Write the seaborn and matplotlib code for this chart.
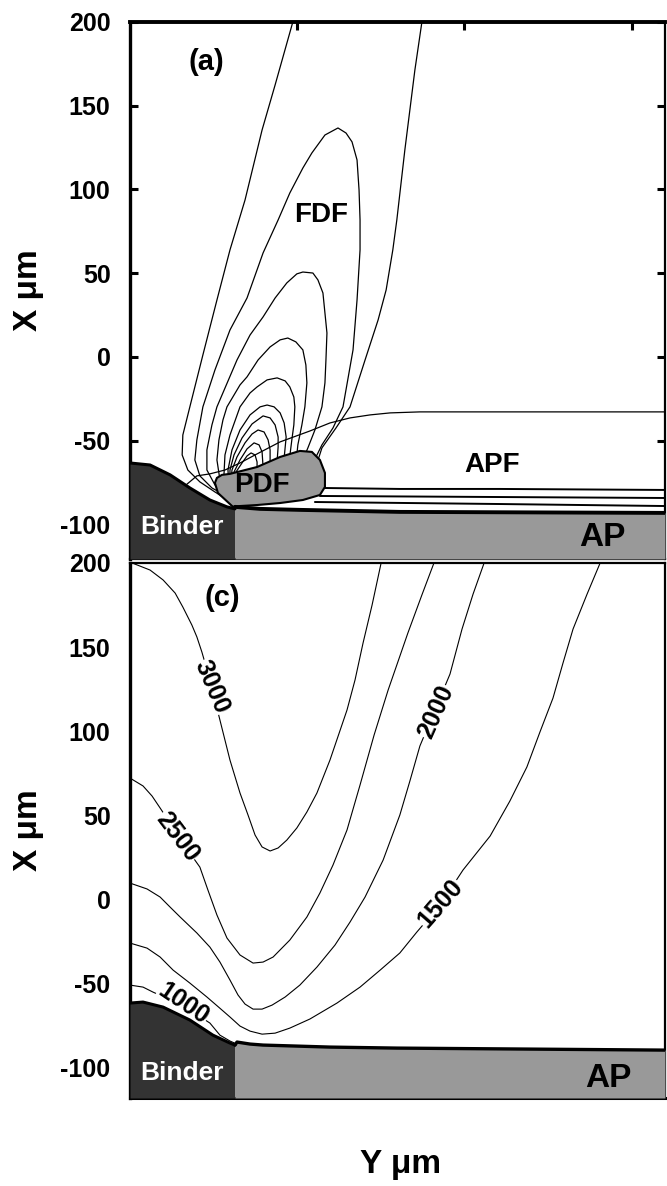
import numpy as np
import pandas as pd
import matplotlib
matplotlib.use("Agg")
import matplotlib.pyplot as plt
import seaborn as sns

# ---------------- Panel (a): flame contour lines (Y, X in micrometres) ----------------
a0_y = [48.7, 43.4, 39.5, 34.4, 29.9, 26.0, 21.8, 17.9, 15.8, 15.6, 17.3, 20.9, 25.4, 29.3,
        56.0, 57.4, 61.6, 65.8, 70.3, 74.2, 76.6, 78.6, 79.8, 82.2, 85.2, 87.3]
a0_x = [200.0, 162.4, 135.5, 93.7, 63.9, 34.0, 1.2, -29.8, -46.6, -58.5, -67.5, -74.6, -80.6, -85.4,
        -63.0, -54.3, -42.4, -29.8, -1.8, 22.1, 40.0, 63.9, 81.8, 123.6, 171.3, 200.0]
a1_y = [29.3, 24.5, 20.9, 19.4, 20.0, 21.8, 25.4, 29.9, 35.0, 39.8, 44.3, 47.8, 51.7, 54.4, 58.3,
        62.2, 64.6, 66.4, 67.9, 68.5, 68.8, 68.8, 67.9, 66.7, 63.7, 60.7, 57.4, 55.3]
a1_x = [-83.6, -78.2, -71.0, -61.5, -49.5, -29.8, -7.8, 16.1, 35.2, 62.1, 81.8, 97.9, 112.8, 121.8, 132.5,
        136.7, 133.7, 128.4, 117.6, 99.7, 81.8, 63.9, 34.0, 4.2, -29.8, -42.4, -52.5, -61.0]
a2_y = [29.3, 25.4, 23.0, 23.0, 24.5, 26.0, 32.0, 35.9, 39.8, 43.4, 46.9, 49.9, 51.7, 54.7, 56.2,
        57.7, 58.9, 58.6, 58.3, 57.4, 55.3, 53.2, 52.3]
a2_x = [-82.4, -76.4, -67.5, -55.5, -40.6, -29.8, -1.8, 13.1, 23.9, 35.2, 44.2, 49.6, 50.7, 50.1, 46.0,
        38.2, 14.3, -1.8, -15.5, -29.8, -43.6, -54.3, -58.5]
a3_y = [29.3, 26.9, 26.0, 26.6, 27.8, 29.0, 32.9, 35.0, 38.3, 41.9, 44.9, 47.2, 49.6, 51.7, 52.6,
        52.9, 52.3, 51.4, 50.2, 49.9]
a3_x = [-80.6, -73.4, -61.5, -49.5, -37.6, -29.8, -16.7, -11.9, -1.8, 6.0, 10.2, 11.3, 9.0, 4.2, -4.8,
        -15.5, -29.8, -40.6, -52.5, -58.5]
a4_y = [29.3, 28.1, 28.4, 29.9, 32.9, 35.9, 38.0, 41.0, 44.0, 46.4, 47.8, 49.0, 49.3, 49.0, 48.4, 47.8]
a4_x = [-79.4, -70.4, -58.5, -46.6, -29.8, -21.5, -17.9, -13.7, -12.5, -14.3, -17.9, -23.9, -29.8,
        -40.6, -49.5, -59.1]
a5_y = [29.6, 29.3, 30.5, 32.9, 35.9, 38.9, 41.0, 43.1, 44.9, 46.1, 46.7, 46.1]
a5_x = [-78.2, -67.5, -55.5, -43.6, -34.6, -29.8, -28.7, -29.8, -33.4, -39.4, -47.8, -60.3]
a6_y = [29.9, 29.9, 31.1, 33.5, 36.5, 39.8, 41.9, 43.4, 44.3, 44.3, 44.0]
a6_x = [-77.0, -67.5, -58.5, -48.4, -40.0, -35.2, -36.4, -40.6, -47.8, -53.7, -62.1]
a7_y = [30.2, 30.5, 32.0, 34.4, 36.5, 38.3, 40.1, 41.3, 41.9, 41.9]
a7_x = [-75.8, -67.5, -59.7, -51.3, -46.0, -43.6, -44.8, -49.5, -55.5, -63.9]
a8_y = [30.5, 31.1, 32.9, 35.0, 37.1, 38.6, 39.5, 39.8]
a8_x = [-74.6, -68.7, -61.5, -54.9, -51.3, -52.5, -56.7, -65.7]
a9_y = [30.8, 31.7, 33.5, 35.0, 36.2, 37.4, 38.0, 38.0]
a9_x = [-73.4, -68.7, -63.3, -59.1, -57.3, -58.5, -62.7, -67.5]

# AP flame contours
apf_top_y = [160.0, 110.6, 86.7, 77.8, 71.8, 65.8, 59.8, 53.8, 44.9, 37.4, 32.9, 28.4, 23.9, 20.0, 17.0]
apf_top_x = [-32.8, -32.8, -32.8, -33.4, -34.6, -36.4, -39.4, -44.2, -50.7, -58.5, -63.3, -67.5,
             -69.8, -71.0, -76.0]
apf1_y = [56.8, 80.7, 110.6, 160.0]
apf1_x = [-78.2, -78.8, -78.8, -79.4]
apf2_y = [56.8, 160.0]
apf2_x = [-83.0, -84.2]
apf3_y = [55.3, 110.6, 160.0]
apf3_x = [-86.6, -87.8, -89.0]

# surfaces, panel (a)
a_binder_y = [0.0, 6.0, 12.0, 17.9, 23.9, 29.0, 31.4]
a_binder_top = [-63.3, -64.5, -70.4, -78.2, -85.4, -89.5, -90.7]
a_ap_y = [31.4, 38.9, 50.8, 80.7, 160.0]
a_ap_top = [-89.5, -90.7, -91.3, -92.5, -93.1]
pdf_y = [30.8, 26.3, 25.4, 26.0, 27.5, 29.9, 38.0, 44.9, 50.8, 54.4, 56.8, 58.3, 58.3, 56.8,
         51.7, 44.9, 38.0, 32.9]
pdf_x = [-89.5, -81.2, -75.2, -72.2, -70.4, -69.8, -65.7, -59.7, -56.1, -56.7, -61.5, -69.2, -77.6,
         -82.4, -85.4, -87.2, -88.4, -89.0]

# ---------------- Panel (c): temperature contours (K) ----------------
c3000_y = [0.0, 6.0, 9.9, 13.5, 15.8, 18.5, 20.0, 21.5, 23.9, 26.9, 29.9, 32.9, 35.3, 37.4, 39.5,
           41.9, 44.3, 46.9, 49.9, 52.9, 55.9, 59.8, 64.9, 67.3, 69.7, 72.4, 75.1]
c3000_x = [200.5, 195.8, 189.9, 182.1, 173.8, 163.1, 156.0, 147.0, 130.4, 106.5, 82.7, 63.1, 50.0,
           38.1, 31.0, 28.6, 30.4, 35.1, 42.3, 51.8, 63.1, 82.7, 112.5, 130.4, 152.4, 175.0, 200.0]
c2500_y = [0.0, 3.9, 6.6, 9.0, 12.0, 15.0, 17.9, 20.9, 23.3, 26.0, 29.0, 32.9, 36.8, 39.8, 42.8,
           47.8, 52.9, 56.8, 60.7, 64.9, 68.8, 73.0, 77.2, 83.1, 87.3, 90.9]
c2500_x = [72.0, 67.3, 61.3, 54.2, 45.2, 36.3, 27.4, 19.0, 5.4, -9.5, -23.2, -33.3, -38.1, -37.5,
           -34.5, -24.4, -10.7, 3.6, 20.2, 41.1, 67.9, 97.6, 124.4, 158.3, 181.0, 200.0]
c2000_y = [0.0, 5.1, 9.0, 12.0, 15.0, 20.0, 23.9, 26.9, 29.9, 32.3, 34.4, 36.8, 39.5, 42.5, 46.4,
           50.8, 55.9, 61.3, 65.8, 70.3, 75.7, 80.7, 83.7, 86.7, 91.2, 95.7, 99.3, 102.6, 105.9]
c2000_x = [9.5, 6.0, 1.2, -4.8, -10.7, -20.2, -28.6, -37.5, -48.2, -57.1, -62.5, -65.5, -65.5, -63.1,
           -58.3, -51.2, -40.5, -27.4, -13.7, 1.2, 23.2, 50.0, 70.2, 91.1, 112.5, 133.9, 160.7,
           181.5, 200.0]
c1500_y = [0.0, 5.1, 9.0, 12.9, 17.9, 23.0, 26.9, 29.9, 32.9, 35.9, 39.5, 43.4, 47.8, 53.8, 61.9,
           68.8, 74.8, 80.7, 85.8, 92.7, 99.6, 107.7, 113.6, 118.7, 122.6, 126.5, 129.5, 132.5,
           136.7, 140.6]
c1500_x = [-26.2, -29.2, -34.5, -42.3, -50.0, -58.3, -65.0, -70.2, -75.6, -78.6, -80.4, -79.8, -76.8,
           -71.4, -61.9, -52.4, -42.3, -32.1, -19.6, -3.6, 17.3, 37.5, 58.3, 78.6, 99.4, 119.6,
           140.5, 160.7, 181.5, 200.0]
c1000_y = [0.0, 3.9, 6.9, 15.6, 23.9, 26.9, 29.9, 31.4]
c1000_x = [-51.2, -52.4, -55.4, -63.1, -73.8, -81.0, -84.5, -85.8]

contour_levels = ["3000", "2500", "2000", "1500", "1000"]
label_y = [24.5, 14.1, 91.4, 92.7, 15.9]
label_x = [126.2, 36.9, 111.5, -2.4, -62.3]
label_rot = [-67, -53, 66, 49, -34]

# surfaces, panel (c)
c_binder_y = [0.0, 3.9, 9.9, 17.9, 24.8, 29.9, 31.4]
c_binder_top = [-61.9, -61.3, -64.3, -72.0, -81.0, -85.7, -86.9]
c_ap_y = [31.4, 32.0, 35.9, 39.8, 59.8, 79.8, 160.0]
c_ap_top = [-86.9, -85.1, -86.3, -86.9, -88.1, -88.7, -89.9]

y_ticks = [200, 150, 100, 50, 0, -50, -100]
top_ticks = [50, 100, 150]

# ---------------- styling ----------------
sns.set_theme(style="white")
plt.rcParams['font.family'] = ['Liberation Sans', 'DejaVu Sans']
plt.rcParams['font.weight'] = 'bold'
plt.rcParams['axes.labelweight'] = 'bold'
plt.rcParams['text.color'] = 'black'
plt.rcParams['axes.labelcolor'] = 'black'
plt.rcParams['xtick.color'] = 'black'
plt.rcParams['ytick.color'] = 'black'
plt.rcParams['axes.edgecolor'] = 'black'

BINDER = '#333333'
GREY = '#999999'


def long_df(curves):
    rows = []
    for name, (ys, xs) in curves.items():
        for i, (yy, xx) in enumerate(zip(ys, xs)):
            rows.append((name, i, yy, xx))
    return pd.DataFrame(rows, columns=['curve', 'order', 'Y', 'X'])


fig = plt.figure(figsize=(6.67, 11.86), dpi=100)
ax_a = fig.add_axes([0.1949, 0.5287, 0.8021, 0.4528])
ax_c = fig.add_axes([0.1949, 0.0742, 0.8021, 0.4511])

# ---- panel (a) ----
thin_a = long_df({'L0': (a0_y, a0_x), 'L1': (a1_y, a1_x), 'L2': (a2_y, a2_x), 'L3': (a3_y, a3_x),
                  'L4': (a4_y, a4_x), 'L5': (a5_y, a5_x), 'L6': (a6_y, a6_x), 'L7': (a7_y, a7_x),
                  'L8': (a8_y, a8_x), 'L9': (a9_y, a9_x), 'APFtop': (apf_top_y, apf_top_x)})
sns.lineplot(data=thin_a, x='Y', y='X', units='curve', estimator=None, sort=False,
             color='black', linewidth=0.9, ax=ax_a, legend=False)
thick_a = long_df({'A1': (apf1_y, apf1_x), 'A2': (apf2_y, apf2_x), 'A3': (apf3_y, apf3_x)})
sns.lineplot(data=thick_a, x='Y', y='X', units='curve', estimator=None, sort=False,
             color='black', linewidth=1.4, ax=ax_a, legend=False)

ya0, ya1 = -120.6, 200
ax_a.fill_between(a_binder_y, ya0, a_binder_top, color=BINDER, lw=0, zorder=3)
ax_a.fill_between(a_ap_y, ya0, a_ap_top, color=GREY, lw=0, zorder=3)
ax_a.fill(pdf_y, pdf_x, facecolor=GREY, edgecolor='black', lw=1.5, zorder=3)
ax_a.plot(a_binder_y, a_binder_top, color='black', lw=2.2, zorder=4)
ax_a.plot(a_ap_y, a_ap_top, color='black', lw=2.8, zorder=4)

ax_a.text(22.7, 176.1, "(a)", fontsize=21, ha='center', va='center', zorder=6)
ax_a.text(57.1, 84.8, "FDF", fontsize=20, ha='center', va='center', zorder=6)
ax_a.text(39.5, -76.4, "PDF", fontsize=20, ha='center', va='center', zorder=6)
ax_a.text(108.3, -64.5, "APF", fontsize=20, ha='center', va='center', zorder=6)
ax_a.text(141.4, -107.5, "AP", fontsize=24, ha='center', va='center', zorder=6)
ax_a.text(15.6, -101.5, "Binder", fontsize=19, color='white', ha='center', va='center', zorder=6)

ax_a.set_xlim(0, 160)
ax_a.set_ylim(ya0, ya1)

# ---- panel (c) ----
thin_c = long_df({'3000': (c3000_y, c3000_x), '2500': (c2500_y, c2500_x), '2000': (c2000_y, c2000_x),
                  '1500': (c1500_y, c1500_x), '1000': (c1000_y, c1000_x)})
sns.lineplot(data=thin_c, x='Y', y='X', units='curve', estimator=None, sort=False,
             color='black', linewidth=0.8, ax=ax_c, legend=False)
yc0, yc1 = -118.4, 200
ax_c.fill_between(c_binder_y, yc0, c_binder_top, color=BINDER, lw=0, zorder=3)
ax_c.fill_between(c_ap_y, yc0, c_ap_top, color=GREY, lw=0, zorder=3)
ax_c.plot(c_binder_y, c_binder_top, color='black', lw=2.2, zorder=4)
ax_c.plot(c_ap_y, c_ap_top, color='black', lw=2.4, zorder=4)

for txt, yy, xx, rot in zip(contour_levels, label_y, label_x, label_rot):
    ax_c.text(yy, xx, txt, fontsize=18, rotation=rot, rotation_mode='anchor',
              ha='center', va='center', zorder=2.5,
              bbox=dict(facecolor='white', edgecolor='none', pad=0.4))

ax_c.text(27.5, 179.2, "(c)", fontsize=21, ha='center', va='center', zorder=6)
ax_c.text(15.6, -103.6, "Binder", fontsize=19, color='white', ha='center', va='center', zorder=6)
ax_c.text(143.0, -106.5, "AP", fontsize=24, ha='center', va='center', zorder=6)
ax_c.set_xlim(0, 160)
ax_c.set_ylim(yc0, yc1)

# ---- axes decoration ----
for ax in (ax_a, ax_c):
    for s in ax.spines.values():
        s.set_color('black')
        s.set_visible(True)
    ax.set_yticks(y_ticks)
    ax.set_yticklabels([str(t) for t in y_ticks])
    ax.set_xlabel('')
    ax.set_ylabel('X \u03bcm', fontsize=24, fontweight='bold', color='black')
    ax.yaxis.set_label_coords(-0.16, 0.5)

ax_a.spines['left'].set_linewidth(2.4)
ax_a.spines['top'].set_linewidth(2.8)
ax_a.spines['right'].set_linewidth(1.6)
ax_a.spines['bottom'].set_linewidth(1.6)
ax_a.set_xticks(top_ticks)
ax_a.tick_params(axis='x', top=True, bottom=False, labeltop=False, labelbottom=False,
                 direction='in', length=6, width=2.2, color='black')
ax_a.tick_params(axis='y', left=True, right=True, direction='in', length=6, width=2.2,
                 labelsize=18, pad=14, color='black', labelcolor='black')

ax_c.spines['left'].set_linewidth(2.4)
ax_c.spines['bottom'].set_linewidth(2.2)
ax_c.spines['right'].set_linewidth(1.6)
ax_c.spines['top'].set_linewidth(1.6)
ax_c.set_xticks([])
ax_c.set_yticks([100, 150], minor=True)
ax_c.tick_params(axis='y', which='major', length=0, labelsize=18, pad=14, labelcolor='black')
ax_c.tick_params(axis='y', which='minor', left=True, right=True, direction='in', length=6,
                 width=2.2, color='black')
ax_c.set_xlabel('Y \u03bcm', fontsize=24, fontweight='bold', color='black')
ax_c.xaxis.set_label_coords(0.505, -0.095)

for ax in (ax_a, ax_c):
    for lab in ax.get_yticklabels():
        lab.set_fontweight('bold')
        lab.set_color('black')

fig.savefig('out.png', dpi=100)
